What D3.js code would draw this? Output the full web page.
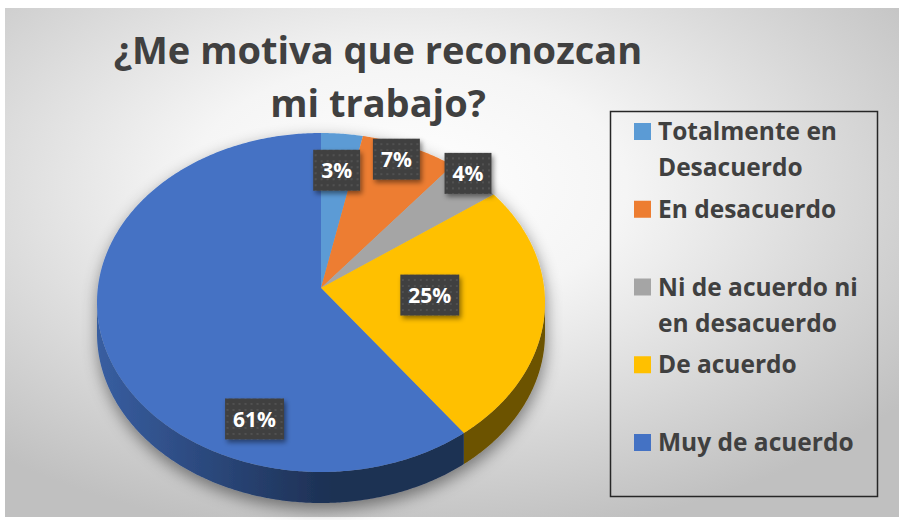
<!DOCTYPE html>
<html>
<head>
<meta charset="utf-8">
<script src="https://cdn.jsdelivr.net/npm/d3@7"></script>
<style>
  body { margin: 0; background: #fff; }
  text { font-family: "Open Sans", Lato, sans-serif; font-weight: bold; }
</style>
</head>
<body>
<script>
//Data
var categories = ["Totalmente en Desacuerdo", "En desacuerdo", "Ni de acuerdo ni en desacuerdo", "De acuerdo", "Muy de acuerdo"];
var values = [3, 7, 4, 25, 61];
var pctLabels = ["3%", "7%", "4%", "25%", "61%"];
var legendLines = [["Totalmente en", "Desacuerdo"], ["En desacuerdo"], ["Ni de acuerdo ni", "en desacuerdo"], ["De acuerdo"], ["Muy de acuerdo"]];
var titleLines = ["¿Me motiva que reconozcan", "mi trabajo?"];
var colors = ["#5B9BD5", "#ED7D31", "#A5A5A5", "#FFC000", "#4472C4"];

//layout
var w = 899, h = 520;
var cx = 321, cy = 302.5;   //centre of the top ellipse
var rx = 224, ry = 169.5;   //radii of the top ellipse
var apexY = 288;            //where the slices meet (perspective)
var depth = 31;             //thickness of the pie
//nudges for the data labels, from 60% of the radius
var labelNudge = [[3, -31], [22, -50], [55, -55], [-25, -17], [60, 82]];

var svg = d3.select("body").append("svg")
    .attr("width", w)
    .attr("height", h);

var defs = svg.append("defs");

//background gradient
var bg = defs.append("radialGradient").attr("id", "bgGrad")
    .attr("cx", "45%").attr("cy", "35%").attr("r", "70%");
bg.append("stop").attr("offset", "0%").attr("stop-color", "#ffffff");
bg.append("stop").attr("offset", "35%").attr("stop-color", "#f5f5f5");
bg.append("stop").attr("offset", "100%").attr("stop-color", "#c0c0c0");

//pie shadow
var sh = defs.append("filter").attr("id", "pieShadow")
    .attr("x", "-20%").attr("y", "-20%").attr("width", "140%").attr("height", "140%");
sh.append("feDropShadow").attr("dx", 1).attr("dy", 6).attr("stdDeviation", 8)
    .attr("flood-color", "#000").attr("flood-opacity", 0.45);

//label box shadow
var lsh = defs.append("filter").attr("id", "lblShadow")
    .attr("x", "-30%").attr("y", "-30%").attr("width", "160%").attr("height", "160%");
lsh.append("feDropShadow").attr("dx", 2).attr("dy", 3).attr("stdDeviation", 2.5)
    .attr("flood-color", "#000").attr("flood-opacity", 0.45);

//dotted texture of the label boxes
var pat = defs.append("pattern").attr("id", "dots")
    .attr("width", 6).attr("height", 6).attr("patternUnits", "userSpaceOnUse");
pat.append("rect").attr("width", 6).attr("height", 6).attr("fill", "#404040");
pat.append("circle").attr("cx", 3).attr("cy", 3).attr("r", 1).attr("fill", "#565656");

//side gradients (lit from the left)
colors.forEach(function(c, i) {
    var g = defs.append("linearGradient").attr("id", "side" + i)
        .attr("gradientUnits", "userSpaceOnUse")
        .attr("x1", cx - rx).attr("x2", cx + 10).attr("y1", 0).attr("y2", 0);
    g.append("stop").attr("offset", "0%").attr("stop-color", d3.color(c).darker(0.55));
    g.append("stop").attr("offset", "100%").attr("stop-color", d3.color(c).darker(2.4));
});

svg.append("rect")
    .attr("x", 5).attr("y", 8)
    .attr("width", w - 5).attr("height", 509)
    .attr("fill", "url(#bgGrad)");

//TITLE
svg.selectAll("text.title")
    .data(titleLines)
    .enter()
    .append("text")
    .attr("class", "title")
    .attr("x", 378)
    .attr("y", function(d, i) { return 64 + i * 53; })
    .attr("text-anchor", "middle")
    .attr("fill", "#404040")
    .style("font-size", "38px")
    .text(function(d) { return d; });

//PIE
var pie = d3.pie().sort(null).value(function(d) { return d; });
var arcs = pie(values);

function ell(a, k) {
    k = k === undefined ? 1 : k;
    return [cx + rx * k * Math.sin(a), cy - ry * k * Math.cos(a)];
}

function topPath(d) {
    var p = d3.path();
    p.moveTo(cx, apexY);
    var n = Math.max(2, Math.ceil((d.endAngle - d.startAngle) / 0.01));
    for (var j = 0; j <= n; j++) {
        var q = ell(d.startAngle + (d.endAngle - d.startAngle) * j / n);
        p.lineTo(q[0], q[1]);
    }
    p.closePath();
    return p.toString();
}

function sidePath(d) {
    var a0 = Math.max(d.startAngle, Math.PI / 2);
    var a1 = Math.min(d.endAngle, Math.PI * 1.5);
    if (a1 <= a0) return null;
    var n = Math.max(2, Math.ceil((a1 - a0) / 0.01));
    var pts = [], j, q;
    for (j = 0; j <= n; j++) pts.push(ell(a0 + (a1 - a0) * j / n));
    for (j = n; j >= 0; j--) {
        q = ell(a0 + (a1 - a0) * j / n);
        pts.push([q[0], q[1] + depth]);
    }
    return d3.line()(pts) + "Z";
}

var pieG = svg.append("g").attr("filter", "url(#pieShadow)");

pieG.selectAll("path.side")
    .data(arcs.filter(function(d) { return sidePath(d) !== null; }))
    .enter()
    .append("path")
    .attr("class", "side")
    .attr("d", sidePath)
    .attr("fill", function(d) { return "url(#side" + d.index + ")"; });

pieG.selectAll("path.slice")
    .data(arcs)
    .enter()
    .append("path")
    .attr("class", "slice")
    .attr("d", topPath)
    .attr("fill", function(d) { return colors[d.index]; });

//LABELS
var lbl = svg.selectAll("g.lbl")
    .data(arcs)
    .enter()
    .append("g")
    .attr("class", "lbl")
    .attr("transform", function(d) {
        var q = ell((d.startAngle + d.endAngle) / 2, 0.6);
        return "translate(" + (q[0] + labelNudge[d.index][0]) + "," + (q[1] + labelNudge[d.index][1]) + ")";
    });

lbl.append("rect")
    .attr("fill", "url(#dots)")
    .attr("filter", "url(#lblShadow)");

lbl.append("text")
    .attr("text-anchor", "middle")
    .attr("dy", "0.36em")
    .attr("fill", "#fff")
    .style("font-size", "21px")
    .text(function(d) { return pctLabels[d.index]; });

lbl.each(function() {
    var g = d3.select(this);
    var tw = g.select("text").node().getComputedTextLength();
    g.select("rect")
        .attr("x", -(tw + 16) / 2).attr("y", -20.5)
        .attr("width", tw + 16).attr("height", 41);
});

//LEGEND
svg.append("rect")
    .attr("x", 610.5).attr("y", 111.5)
    .attr("width", 267).attr("height", 385)
    .attr("fill", "none")
    .attr("stroke", "#262626")
    .attr("stroke-width", 1.5);

var ly = d3.scalePoint().domain(categories).range([131.5, 442.5]);

var item = svg.selectAll("g.legend")
    .data(categories)
    .enter()
    .append("g")
    .attr("class", "legend")
    .attr("transform", function(d) { return "translate(634," + ly(d) + ")"; });

item.append("rect")
    .attr("x", 0).attr("y", -8.5)
    .attr("width", 17).attr("height", 17)
    .attr("fill", function(d, i) { return colors[i]; });

item.append("text")
    .attr("fill", "#404040")
    .style("font-size", "24.5px")
    .selectAll("tspan")
    .data(function(d, i) { return legendLines[i]; })
    .enter()
    .append("tspan")
    .attr("x", 24)
    .attr("y", function(d, j) { return 8.5 + j * 36; })
    .text(function(d) { return d; });
</script>
</body>
</html>
